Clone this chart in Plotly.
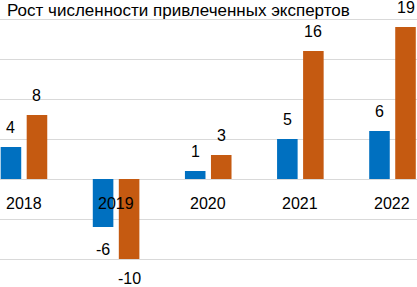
import plotly.graph_objects as go

years = ["2018", "2019", "2020", "2021", "2022"]
series_a = [4, -6, 1, 5, 6]
series_b = [8, -10, 3, 16, 19]
title_text = "Рост численности привлеченных экспертов"

blue = "#0070C0"
orange = "#C55A11"
font = "Liberation Sans"

fig = go.Figure()
fig.add_trace(go.Bar(x=years, y=series_a, marker_color=blue, marker_line_width=0))
fig.add_trace(go.Bar(x=years, y=series_b, marker_color=orange, marker_line_width=0))

ann = []
for i, (s, c) in enumerate([(series_a, -0.5), (series_b, 0.5)]):
    for k, v in enumerate(s):
        ann.append(dict(x=k + c * 0.283, y=v, xref="x", yref="y", text=str(v),
                        showarrow=False, yanchor="middle",
                        yshift=20 if v >= 0 else (-22 if v > -8 else -19),
                        font=dict(family=font, size=16, color="#000")))
for k, yr in enumerate(years):
    ann.append(dict(x=k, y=0, xref="x", yref="y", text=yr, showarrow=False,
                    yanchor="middle", yshift=-24,
                    font=dict(family=font, size=16, color="#000")))
ann.append(dict(x=0.012, y=1 - 10 / 287, xref="paper", yref="paper", text=title_text,
                showarrow=False, xanchor="left", yanchor="middle",
                font=dict(family=font, size=17, color="#000")))

fig.update_layout(
    width=417, height=287,
    margin=dict(l=0, r=0, t=0, b=0),
    paper_bgcolor="white", plot_bgcolor="white",
    showlegend=False,
    barmode="group", bargap=0.435, bargroupgap=0.21,
    xaxis=dict(type="category", range=[-0.26, 4.266], showticklabels=False,
               showgrid=False, zeroline=False, ticks=""),
    yaxis=dict(range=[-13.5, 22.375], dtick=5, showticklabels=False,
               gridcolor="#D9D9D9", gridwidth=1, zeroline=True,
               zerolinecolor="#D9D9D9", zerolinewidth=1),
    annotations=ann,
)
fig.write_html("out.html", config={"displayModeBar": False},
               post_script="document.body.style.margin='0';document.body.style.overflow='hidden';")
